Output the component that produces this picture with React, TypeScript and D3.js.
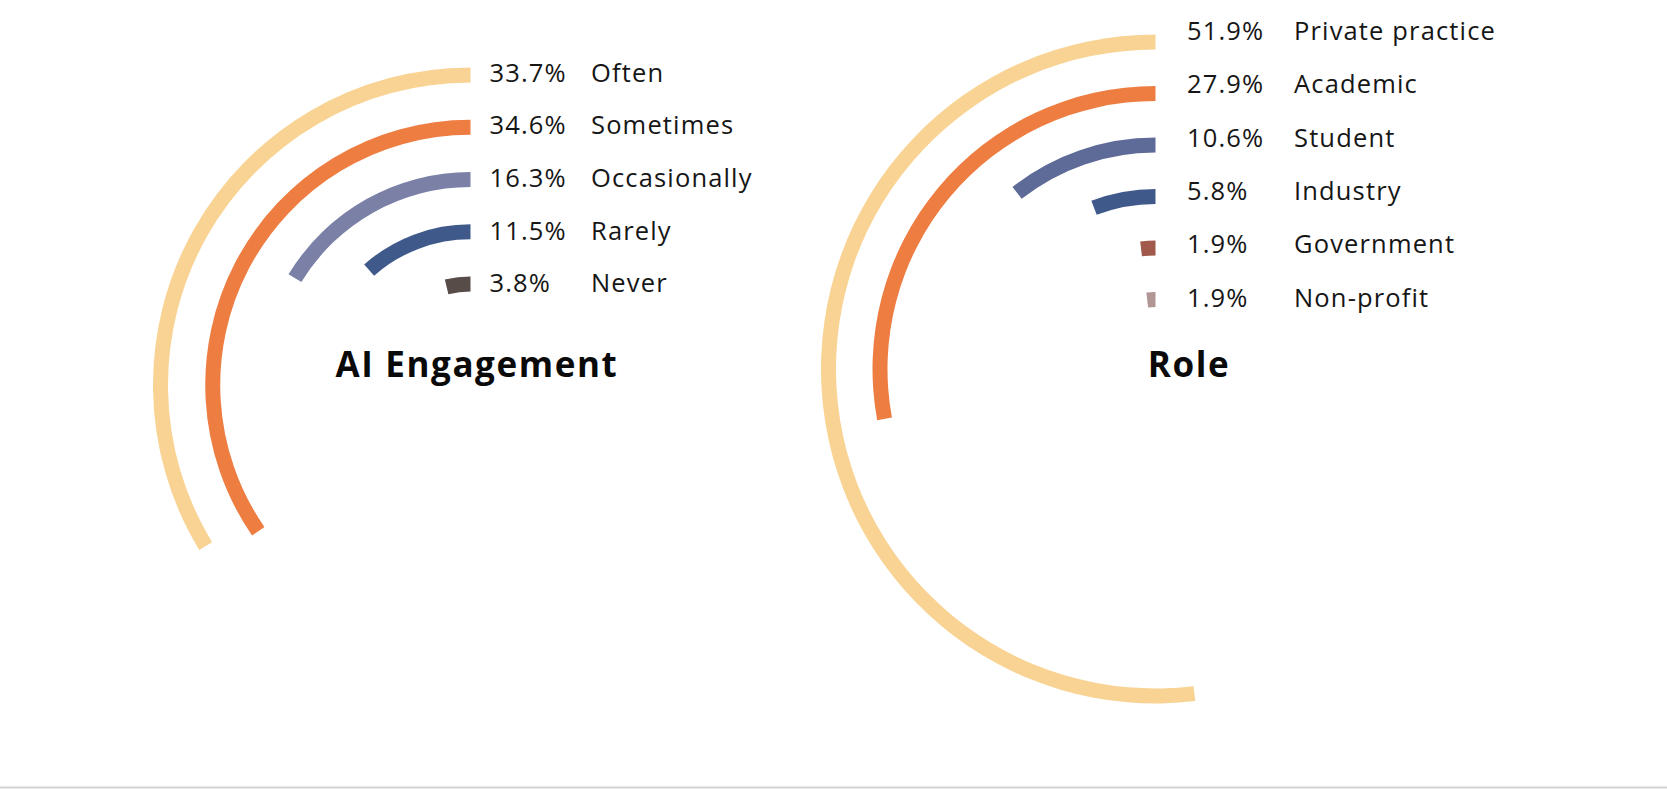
import React from "react";
import * as d3 from "d3";

// ---- Data ----
const engagementCategories = ["Often", "Sometimes", "Occasionally", "Rarely", "Never"];
const engagementValues = [33.7, 34.6, 16.3, 11.5, 3.8];
const engagementColors = ["#F9D393", "#ED7D41", "#7A80A6", "#3F5A8A", "#574C48"];
const engagementTitle = "AI Engagement";

const roleCategories = ["Private practice", "Academic", "Student", "Industry", "Government", "Non-profit"];
const roleValues = [51.9, 27.9, 10.6, 5.8, 1.9, 1.9];
const roleColors = ["#F9D393", "#ED7D41", "#5E6B98", "#3F5A8A", "#A0594B", "#B29595"];
const roleTitle = "Role";

const W = 1667;
const H = 789;
const BAND = 15;
const LABEL_FONT = "'Open Sans', 'Noto Sans', sans-serif";

type ChartProps = {
  categories: string[];
  values: number[];
  colors: string[];
  title: string;
  cx: number;
  cy: number;
  rOuter: number;
  rInner: number;
  labelTop: number;
  labelBottom: number;
  pctX: number;
  nameX: number;
  titleX: number;
  titleY: number;
};

function RadialBars(p: ChartProps) {
  const angle = d3.scaleLinear().domain([0, 100]).range([0, 2 * Math.PI]);
  const radius = d3.scalePoint<string>().domain(p.categories).range([p.rOuter, p.rInner]);
  const labelY = d3.scalePoint<string>().domain(p.categories).range([p.labelTop, p.labelBottom]);
  const arc = d3.arc<{ r: number; v: number }>()
    .innerRadius((d) => d.r - BAND / 2)
    .outerRadius((d) => d.r + BAND / 2)
    .startAngle((d) => -angle(d.v))
    .endAngle(0);

  return (
    <g>
      <g transform={`translate(${p.cx},${p.cy})`}>
        {p.categories.map((c, i) => (
          <path
            key={c}
            d={arc({ r: radius(c) as number, v: p.values[i] }) || ""}
            fill={p.colors[i]}
          />
        ))}
      </g>
      {p.categories.map((c, i) => (
        <g key={c + "-lbl"} fontFamily={LABEL_FONT} fontSize={25.5} fill="#161616" letterSpacing={1.15}>
          <text x={p.pctX} y={labelY(c)}>{d3.format(".1f")(p.values[i]) + "%"}</text>
          <text x={p.nameX} y={labelY(c)}>{c}</text>
        </g>
      ))}
      <text
        x={p.titleX}
        y={p.titleY}
        textAnchor="middle"
        fontFamily={LABEL_FONT}
        fontWeight={700}
        fontSize={35}
        letterSpacing={1.6}
        fill="#0a0a0a"
      >
        {p.title}
      </text>
    </g>
  );
}

export default function App() {
  return (
    <svg
      width={W}
      height={H}
      viewBox={`0 0 ${W} ${H}`}
      style={{ position: "absolute", left: 0, top: 0, background: "#fff", display: "block" }}
    >
      <rect x={0} y={0} width={W} height={H} fill="#fff" />
      <RadialBars
        categories={engagementCategories}
        values={engagementValues}
        colors={engagementColors}
        title={engagementTitle}
        cx={470.5}
        cy={385}
        rOuter={310}
        rInner={101}
        labelTop={81.7}
        labelBottom={292.3}
        pctX={489.5}
        nameX={591}
        titleX={477}
        titleY={377}
      />
      <RadialBars
        categories={roleCategories}
        values={roleValues}
        colors={roleColors}
        title={roleTitle}
        cx={1155.5}
        cy={369}
        rOuter={327}
        rInner={69.5}
        labelTop={40}
        labelBottom={306.7}
        pctX={1187}
        nameX={1294}
        titleX={1189}
        titleY={377}
      />
      <rect x={0} y={786.5} width={W} height={2} fill="#d2d2d2" />
    </svg>
  );
}
